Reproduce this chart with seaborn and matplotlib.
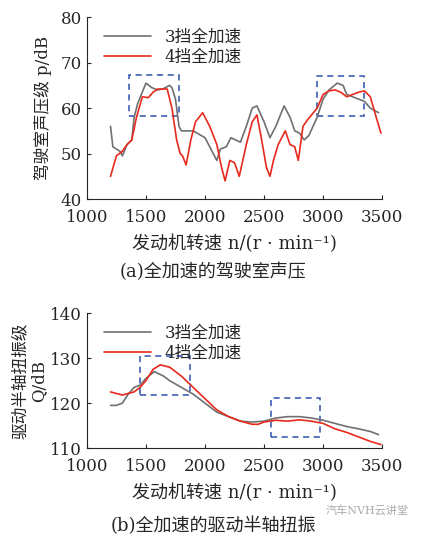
import numpy as np
import pandas as pd
import matplotlib
matplotlib.use('Agg')
import matplotlib.pyplot as plt
import seaborn as sns
from matplotlib.patches import Rectangle

sns.set_style('ticks')
plt.rcParams['font.family'] = ['DejaVu Serif', 'Noto Sans CJK SC']

# top chart: cabin sound pressure
p3_rpm = [1200, 1220, 1280, 1300, 1340, 1380, 1400, 1430, 1500, 1550, 1600, 1650, 1700, 1720, 1750, 1780, 1800, 1900, 2000, 2050, 2100, 2130, 2180, 2220, 2300, 2350, 2400, 2440, 2500, 2550, 2600, 2670, 2720, 2760, 2800, 2840, 2880, 2950, 3000, 3050, 3120, 3170, 3200, 3250, 3300, 3350, 3400, 3470]
p3_val = [56, 51.5, 50.5, 49.5, 52, 53, 58, 61, 65.5, 64.5, 64, 64.3, 65, 64.5, 62, 56, 55, 55, 53.5, 51, 48.5, 51, 51.5, 53.5, 52.5, 56, 60, 60.5, 57, 53.5, 56, 60.5, 58, 55, 54.5, 53, 54, 58, 62, 64, 65.5, 65, 63, 62.5, 62, 61.5, 60, 59]
p4_rpm = [1200, 1250, 1300, 1340, 1380, 1420, 1470, 1520, 1560, 1600, 1680, 1720, 1760, 1790, 1810, 1840, 1880, 1920, 1980, 2040, 2100, 2140, 2170, 2210, 2250, 2290, 2350, 2400, 2440, 2480, 2520, 2550, 2580, 2620, 2680, 2720, 2760, 2790, 2830, 2870, 2950, 3000, 3050, 3100, 3150, 3200, 3250, 3300, 3350, 3400, 3450, 3490]
p4_val = [45, 49.5, 50.5, 52, 53, 58, 62.5, 62.3, 63.5, 64.2, 64.2, 60, 53, 50, 49.5, 47.5, 53, 57, 59, 56, 52, 47, 44, 48.5, 48, 45, 52, 57, 58.5, 53, 47, 45, 48.5, 52, 55, 52, 51.5, 48.5, 56, 57.5, 60, 63, 63.8, 64, 63.5, 62.5, 63, 63.5, 63.8, 62.5, 58, 54.5]

# bottom chart: half shaft torsional vibration
q3_rpm = [1200, 1250, 1300, 1350, 1400, 1450, 1500, 1570, 1650, 1700, 1800, 1900, 2000, 2100, 2200, 2300, 2400, 2500, 2600, 2700, 2800, 2900, 3000, 3100, 3200, 3300, 3400, 3470]
q3_val = [119.5, 119.5, 120, 122, 123.5, 124, 125.5, 127, 126, 125, 123.5, 122, 120, 118, 117, 116, 115.8, 116, 116.7, 117, 117, 116.7, 116.2, 115.5, 114.8, 114.3, 113.7, 113]
q4_rpm = [1200, 1300, 1400, 1450, 1500, 1560, 1620, 1700, 1800, 1900, 2000, 2100, 2200, 2300, 2400, 2450, 2500, 2600, 2700, 2800, 2900, 3000, 3100, 3200, 3300, 3400, 3490]
q4_val = [122.5, 121.8, 122.5, 123.5, 125, 127.5, 128.5, 128, 126, 123.5, 121, 118.5, 117, 116, 115.3, 115.3, 115.8, 116.2, 116, 116.3, 116, 115.5, 114.3, 113.5, 112.5, 111.5, 110.8]

labels = ['3挡全加速', '4挡全加速']
top_boxes = [(1360, 1780, 58.2, 67.2), (2950, 3350, 58.2, 67.0)]
bot_boxes = [(1450, 1870, 121.8, 130.5), (2560, 2970, 112.5, 121.2)]

fig = plt.figure(figsize=(4.26, 5.38), dpi=100)
ax1 = fig.add_axes([0.204, 0.630, 0.693, 0.338])
ax2 = fig.add_axes([0.204, 0.167, 0.693, 0.251])


def draw(ax, r3, v3, r4, v4, boxes, ylim, yticks):
    sns.lineplot(x=r3, y=v3, ax=ax, color='#707070', lw=1.2, label=labels[0])
    sns.lineplot(x=r4, y=v4, ax=ax, color='#e8291c', lw=1.2, label=labels[1])
    for x0, x1, y0, y1 in boxes:
        ax.add_patch(Rectangle((x0, y0), x1 - x0, y1 - y0, fill=False,
                               ec='#2f4fb0', ls=(0, (4, 3)), lw=1.1))
    ax.set_xlim(1000, 3500)
    ax.set_ylim(*ylim)
    ax.set_xticks([1000, 1500, 2000, 2500, 3000, 3500])
    ax.set_yticks(yticks)
    ax.tick_params(labelsize=12, direction='in', length=3)
    ax.tick_params(axis='x', pad=7)
    sns.despine(ax=ax)
    ax.legend(loc='upper left', frameon=False, fontsize=12, handlelength=2.8,
              borderaxespad=0.3, labelspacing=0.2, bbox_to_anchor=(0.02, 1.0))
    ax.set_xlabel('发动机转速 n/(r · min⁻¹)', fontsize=13, labelpad=6)


draw(ax1, p3_rpm, p3_val, p4_rpm, p4_val, top_boxes, (40, 80), [40, 50, 60, 70, 80])
ax1.set_ylabel('驾驶室声压级 p/dB', fontsize=12, labelpad=6)
draw(ax2, q3_rpm, q3_val, q4_rpm, q4_val, bot_boxes, (110, 140), [110, 120, 130, 140])
ax2.set_ylabel('驱动半轴扭振级\nQ/dB', fontsize=12, labelpad=2, linespacing=1.1)

fig.text(0.5, 0.485, '(a)全加速的驾驶室声压', ha='center', fontsize=13)
fig.text(0.5, 0.012, '(b)全加速的驱动半轴扭振', ha='center', fontsize=13)
fig.text(0.96, 0.045, '汽车NVH云讲堂', ha='right', fontsize=8, color='#aaaaaa')

fig.savefig('out.png', dpi=100)
